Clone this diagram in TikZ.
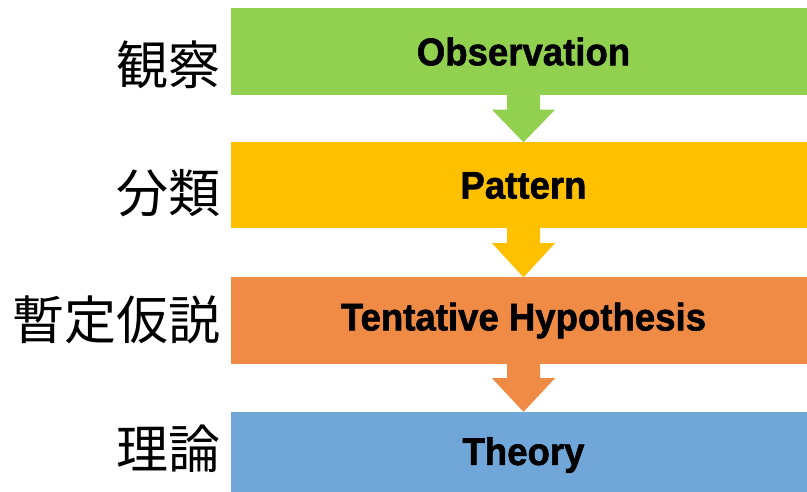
\documentclass[tikz,border=0pt]{standalone}
\usepackage{fontspec}
\newfontfamily\boxfont{Liberation Sans Bold}[FakeBold=1.5]
\newfontfamily\cjk{Noto Sans CJK JP}
\usetikzlibrary{calc}
\definecolor{cgreen}{RGB}{146,208,80}
\definecolor{cgold}{RGB}{255,192,0}
\definecolor{corange}{RGB}{240,139,70}
\definecolor{cblue}{RGB}{112,166,216}
\tikzset{
  stagebox/.style={fill=#1, draw=none, minimum width=585pt, minimum height=86pt, inner sep=0pt,
    font=\boxfont\fontsize{38.5}{40}\selectfont},
  lbl/.style={anchor=east, inner sep=0pt, font=\cjk\fontsize{52}{56}\selectfont},
  flow/.style={fill=#1, draw=none}
}
\newcommand{\bx}[1]{\scalebox{0.95}[1]{#1}}
\begin{document}
\begin{tikzpicture}[x=1pt,y=-1pt]
\useasboundingbox (0,0) rectangle (807,492);
\clip (0,0) rectangle (807,492);
\node[stagebox=cgreen, minimum height=87pt] (b1) at (523.5,51.5) {\bx{Observation}};
\node[stagebox=cgold] (b2) at (523.5,185.5) {\bx{Pattern}};
\node[stagebox=corange] (b3) at (523.5,320.5) {\bx{Tentative Hypothesis}};
\node[stagebox=cblue] (b4) at (523.5,455) {\bx{Theory}};
\node[lbl] (l1) at (221,65) {観察};
\node[lbl] (l2) at (221,193) {分類};
\node[lbl] (l3) at (221,320) {暫定仮説};
\node[lbl] (l4) at (221,449) {理論};
\foreach \a/\b/\c in {b1/b2/cgreen,b2/b3/cgold,b3/b4/corange}{
  \fill[flow=\c] ($(\a.south)+(-16.5,-0.5)$) -- ($(\a.south)+(16.5,-0.5)$) -- ($(\a.south)+(16.5,14.5)$)
    -- ($(\a.south)+(31.5,14.5)$) -- (\b.north) -- ($(\a.south)+(-31.5,14.5)$)
    -- ($(\a.south)+(-16.5,14.5)$) -- cycle;
}
\end{tikzpicture}
\end{document}
